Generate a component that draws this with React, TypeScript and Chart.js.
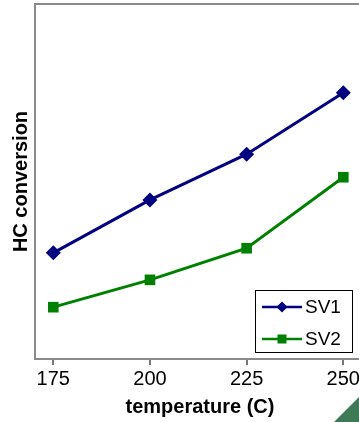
import React, { useEffect, useRef } from "react";
import { Chart, registerables } from "chart.js";

Chart.register(...registerables);

const temperatures = [175, 200, 225, 250];
const sv1Values = [29.9, 44.8, 57.7, 75.0];
const sv2Values = [14.6, 22.3, 31.2, 51.2];
const xTickValues = [175, 200, 225, 250];
const seriesNames = ["SV1", "SV2"];
const seriesColors = ["#000080", "#008000"];
const xTitle = "temperature (C)";
const yTitle = "HC conversion";

const FONT = "Arial, 'Liberation Sans', sans-serif";
const VIEW_W = 359;

const framePlugin = {
  id: "frameAndLegend",
  afterDraw(chart: any) {
    const { ctx, chartArea } = chart;
    const { left, top, bottom } = chartArea;
    const W = chart.width;
    ctx.save();
    ctx.strokeStyle = "#8a8a8a";
    ctx.lineWidth = 2;
    ctx.beginPath();
    ctx.moveTo(left, bottom);
    ctx.lineTo(left, top);
    ctx.lineTo(W, top);
    ctx.stroke();

    // y title
    ctx.save();
    ctx.translate(21, (top + bottom) / 2);
    ctx.rotate(-Math.PI / 2);
    ctx.font = `bold 20px ${FONT}`;
    ctx.fillStyle = "#000";
    ctx.textAlign = "center";
    ctx.textBaseline = "middle";
    ctx.fillText(yTitle, 0, 0);
    ctx.restore();

    // x title
    ctx.font = `bold 20px ${FONT}`;
    ctx.fillStyle = "#000";
    ctx.textAlign = "center";
    ctx.textBaseline = "middle";
    ctx.fillText(xTitle, (left + VIEW_W) / 2 + 3, 407);

    // legend
    const bx = 255.5, by = 290.5, bw = 97, bh = 62;
    ctx.fillStyle = "#fff";
    ctx.fillRect(bx, by, bw, bh);
    ctx.strokeStyle = "#000";
    ctx.lineWidth = 1;
    ctx.strokeRect(bx, by, bw, bh);
    const rows = [307, 339];
    seriesNames.forEach((name, i) => {
      const y = rows[i];
      const color = seriesColors[i];
      ctx.strokeStyle = color;
      ctx.lineWidth = 2.5;
      ctx.beginPath();
      ctx.moveTo(262, y);
      ctx.lineTo(302, y);
      ctx.stroke();
      ctx.fillStyle = color;
      const cx = 282;
      if (i === 0) {
        const r = 5.5;
        ctx.beginPath();
        ctx.moveTo(cx, y - r);
        ctx.lineTo(cx + r, y);
        ctx.lineTo(cx, y + r);
        ctx.lineTo(cx - r, y);
        ctx.closePath();
        ctx.fill();
      } else {
        ctx.fillRect(cx - 4.5, y - 4.5, 9, 9);
      }
      ctx.fillStyle = "#000";
      ctx.font = `19px ${FONT}`;
      ctx.textAlign = "left";
      ctx.textBaseline = "middle";
      ctx.fillText(name, 305, y + 1);
    });

    ctx.fillStyle = "#3d7a55";
    ctx.beginPath();
    ctx.moveTo(334, 422);
    ctx.lineTo(VIEW_W, 397);
    ctx.lineTo(VIEW_W, 422);
    ctx.closePath();
    ctx.fill();
    ctx.restore();
  },
};

export default function App() {
  const canvasRef = useRef<HTMLCanvasElement | null>(null);

  useEffect(() => {
    document.body.style.margin = "0";
    const canvas = canvasRef.current;
    if (!canvas) return;
    const chart = new Chart(canvas, {
      type: "line",
      data: {
        datasets: [
          {
            label: seriesNames[0],
            data: temperatures.map((t, i) => ({ x: t, y: sv1Values[i] })),
            borderColor: seriesColors[0],
            backgroundColor: seriesColors[0],
            borderWidth: 3,
            pointStyle: "rectRot",
            pointRadius: 7.5,
            pointBorderWidth: 0,
            tension: 0,
          },
          {
            label: seriesNames[1],
            data: temperatures.map((t, i) => ({ x: t, y: sv2Values[i] })),
            borderColor: seriesColors[1],
            backgroundColor: seriesColors[1],
            borderWidth: 3,
            pointStyle: "rect",
            pointRadius: 7.5,
            pointBorderWidth: 0,
            tension: 0,
          },
        ],
      },
      options: {
        animation: false,
        responsive: false,
        devicePixelRatio: 1,
        layout: { autoPadding: false, padding: { left: 35, top: 4, right: 0, bottom: 29 } },
        plugins: {
          legend: { display: false },
          tooltip: { enabled: false },
        },
        scales: {
          x: {
            type: "linear",
            min: 170.27,
            max: 259.49,
            afterBuildTicks: (scale: any) => {
              scale.ticks = xTickValues.map((v) => ({ value: v }));
            },
            grid: {
              drawOnChartArea: false,
              drawTicks: true,
              tickLength: 6,
              color: "#777",
              lineWidth: 2,
            },
            border: { display: true, color: "#8a8a8a", width: 2 },
            ticks: {
              font: { family: FONT, size: 20 },
              color: "#000",
              padding: 2,
              maxRotation: 0,
              autoSkip: false,
            },
            title: { display: false },
          },
          y: { display: false, min: 0, max: 100 },
        },
      },
      plugins: [framePlugin],
    });
    return () => chart.destroy();
  }, []);

  return (
    <div style={{ position: "fixed", left: 0, top: 0, width: VIEW_W, height: 422, overflow: "hidden" }}>
      <canvas ref={canvasRef} width={380} height={422} style={{ width: 380, height: 422 }} />
    </div>
  );
}
